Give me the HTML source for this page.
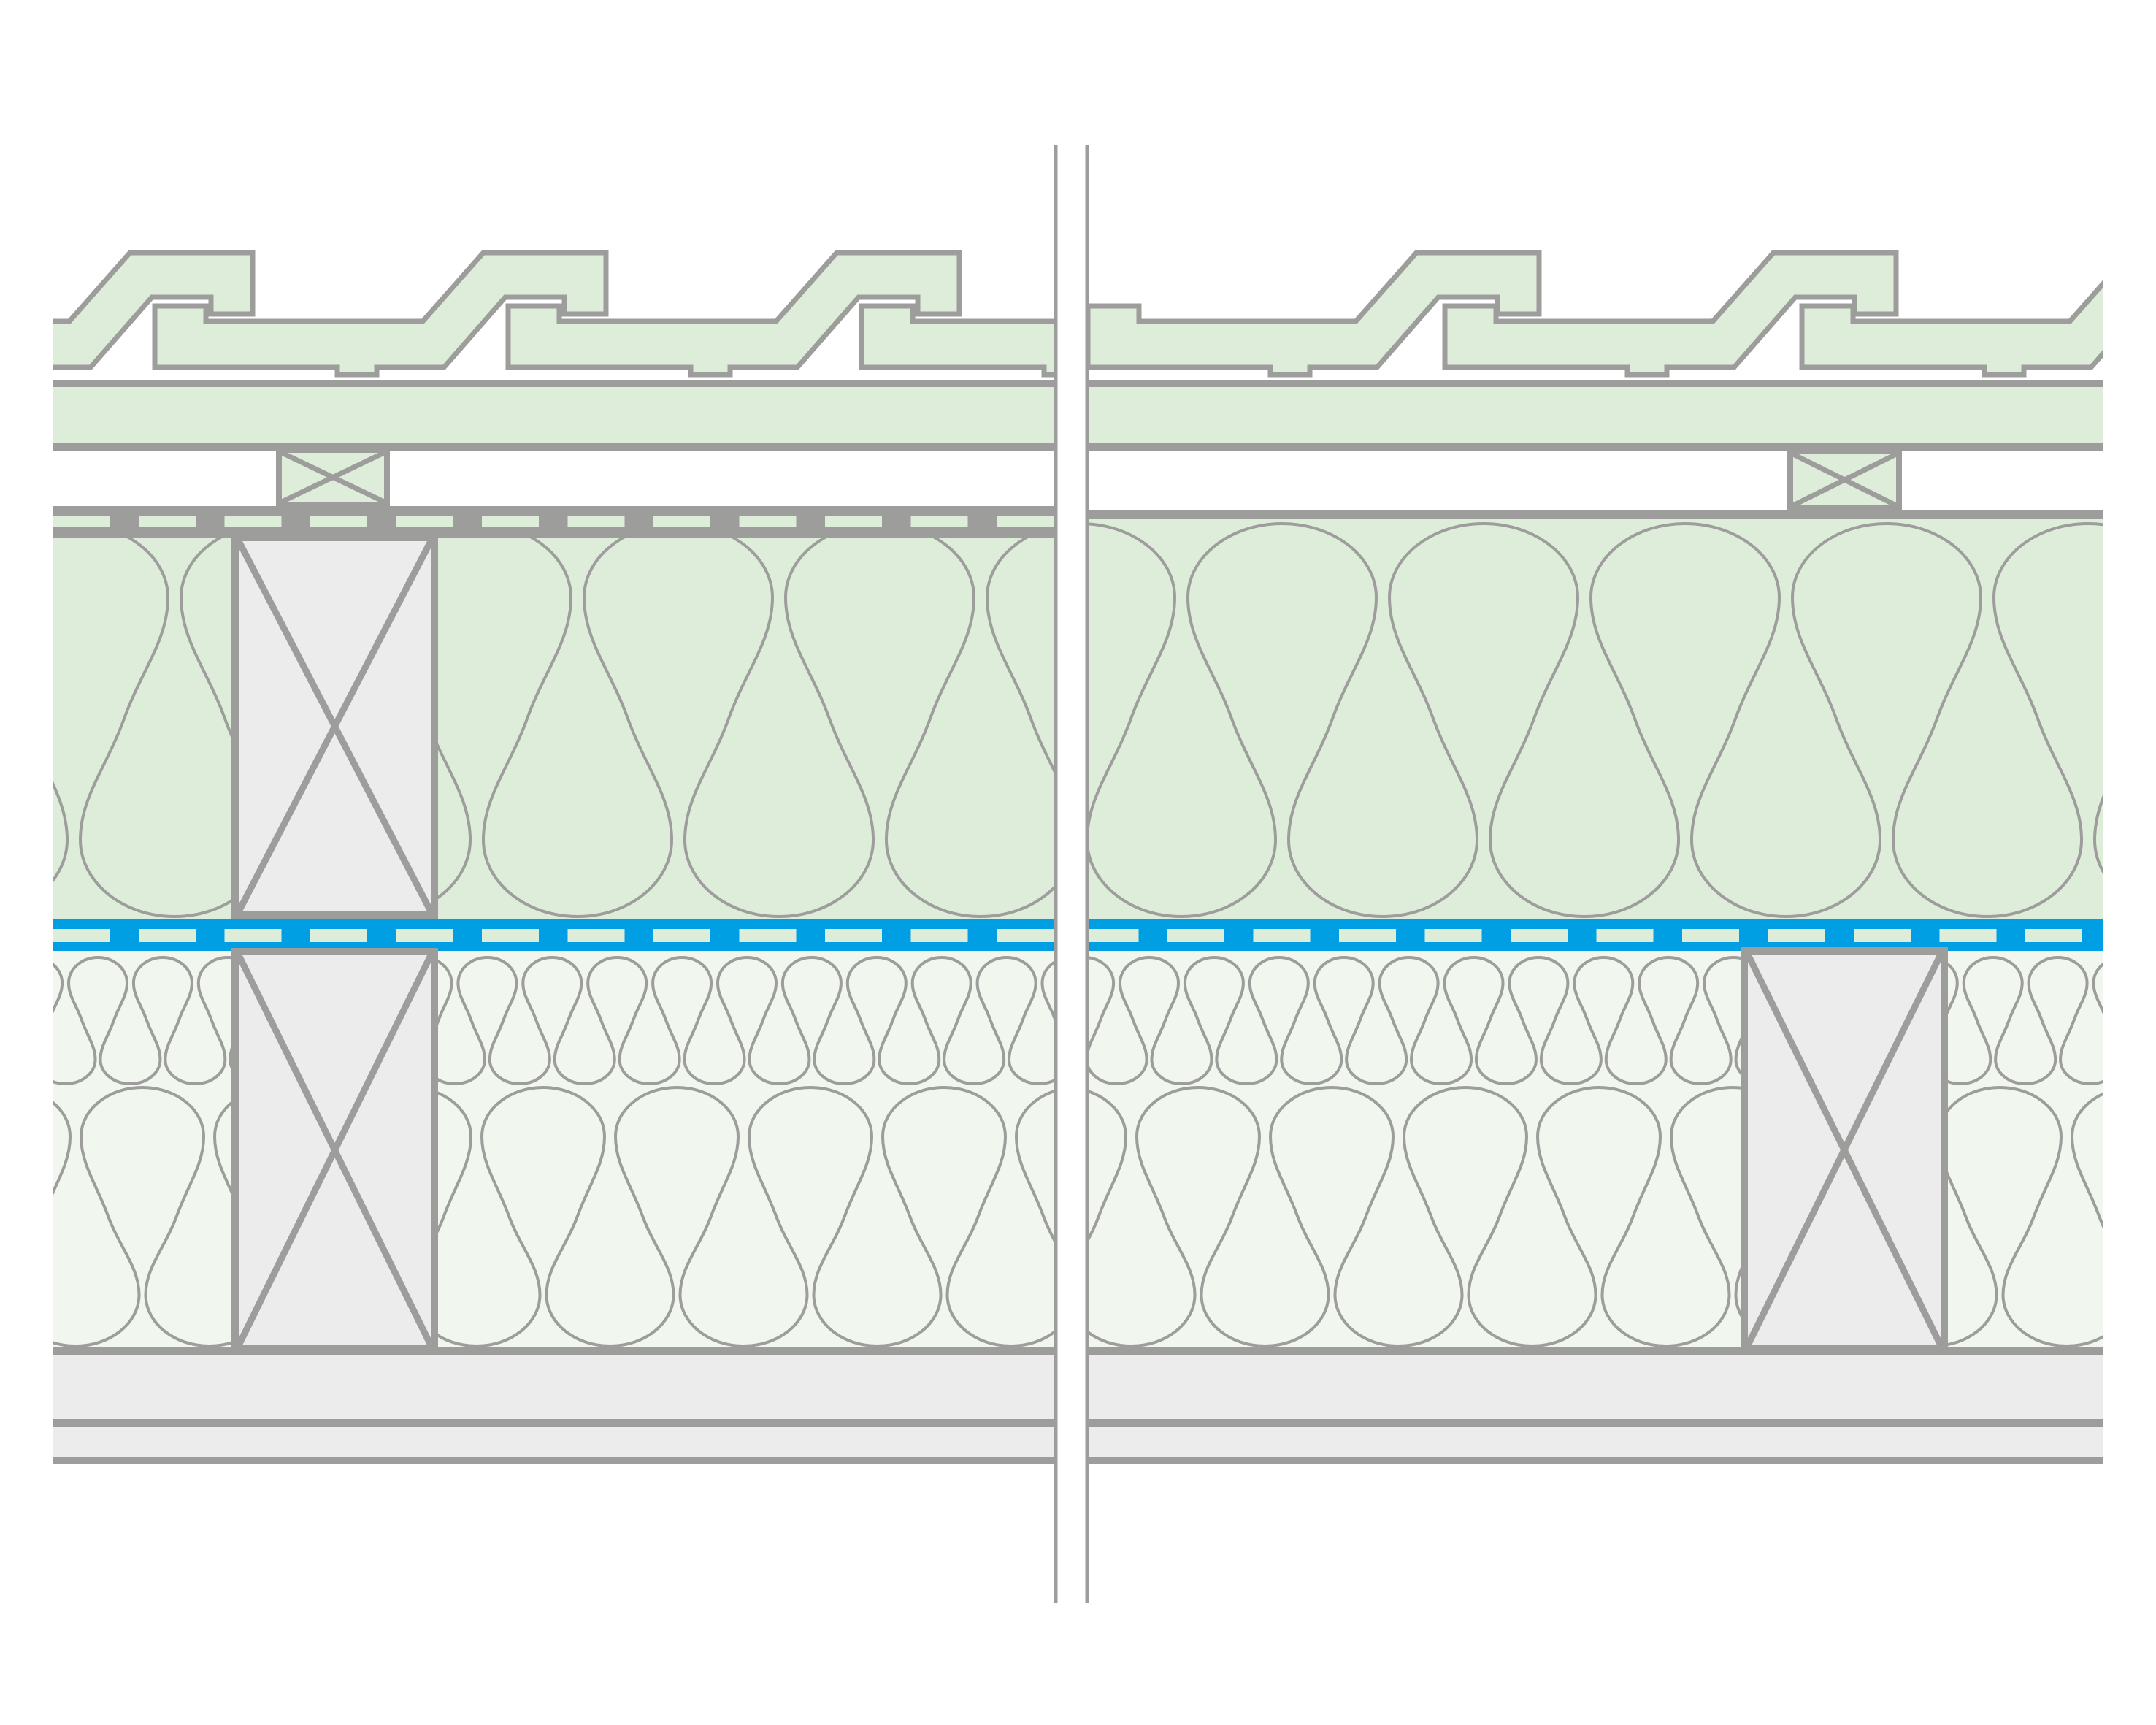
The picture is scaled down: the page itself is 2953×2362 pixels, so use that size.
<!DOCTYPE html>
<html><head><meta charset="utf-8"><style>html,body{margin:0;padding:0;background:#fff}svg{display:block}</style></head>
<body>
<svg id="s" width="2953" height="2362" viewBox="0 0 2953 2362" xmlns="http://www.w3.org/2000/svg">
<defs>
<clipPath id="cl"><rect x="73" y="0" width="1373" height="2362"/></clipPath>
<clipPath id="cr"><rect x="1489" y="0" width="1391" height="2362"/></clipPath>
</defs>
<rect width="2953" height="2362" fill="#fff"/>
<g id="L" clip-path="url(#cl)"></g>
<g id="R" clip-path="url(#cr)"></g>
<line x1="1446" y1="198" x2="1446" y2="2195" stroke="#9d9d9c" stroke-width="5"/>
<line x1="1489" y1="198" x2="1489" y2="2195" stroke="#9d9d9c" stroke-width="5"/>
</svg>
<script>
var G='#9d9d9c',GREEN='#deecda',LG='#f1f6ef',GR='#ececec',BL='#009fe3';
function serp(c0,cEnd,P,T,B,wt,yt,yn,dn,wb,yb){
  var s=(wt+wb-P/2)/(yb-yt),k1=(yn-yt)*0.35,k2=(yn-yt)*0.4,k3=(yb-yn)*0.4,k4=(yb-yn)*0.35;
  var d='M'+(c0-dn)+','+yn;
  for(var c=c0;c<cEnd;c+=P){
    var cb=c+P/2;
    d+=' C'+(c-dn-s*k2)+','+(yn-k2)+' '+(c-wt)+','+(yt+k1)+' '+(c-wt)+','+yt;
    d+=' C'+(c-wt)+','+(yt-(yt-T)*0.55)+' '+(c-wt*0.55)+','+T+' '+c+','+T;
    d+=' C'+(c+wt*0.55)+','+T+' '+(c+wt)+','+(yt-(yt-T)*0.55)+' '+(c+wt)+','+yt;
    d+=' C'+(c+wt)+','+(yt+k1)+' '+(c+dn+s*k2)+','+(yn-k2)+' '+(c+dn)+','+yn;
    d+=' C'+(c+dn-s*k3)+','+(yn+k3)+' '+(cb-wb)+','+(yb-k4)+' '+(cb-wb)+','+yb;
    d+=' C'+(cb-wb)+','+(yb+(B-yb)*0.55)+' '+(cb-wb*0.55)+','+B+' '+cb+','+B;
    d+=' C'+(cb+wb*0.55)+','+B+' '+(cb+wb)+','+(yb+(B-yb)*0.55)+' '+(cb+wb)+','+yb;
    d+=' C'+(cb+wb)+','+(yb-k4)+' '+(c+P-dn+s*k3)+','+(yn+k3)+' '+(c+P-dn)+','+yn;
  }
  return '<path d="'+d+'" fill="none" stroke="'+G+'" stroke-width="4"/>';
}
function tile(x){
  var p=[[0,419],[70,419],[70,440],[367,440],[450,346],[618,346],[618,430],[561,430],[561,407],[480,407],[396,503],[304,503],[304,513],[250,513],[250,503],[0,503]];
  return '<polygon points="'+p.map(function(q){return (q[0]+x)+','+q[1]}).join(' ')+'" fill="'+GREEN+'" stroke="'+G+'" stroke-width="7" stroke-linejoin="miter"/>';
}
function dashes(x0,x1,start,y,h,col){
  var o='';for(var x=start;x<x1;x+=117.5){o+='<rect x="'+x+'" y="'+y+'" width="78" height="'+h+'" fill="'+col+'"/>';}return o;
}
function stud(x1,y1,x2,y2){
  return '<rect x="'+(x1+5)+'" y="'+(y1+5)+'" width="'+(x2-x1-10)+'" height="'+(y2-y1-10)+'" fill="'+GR+'" stroke="'+G+'" stroke-width="10"/>'+
  '<line x1="'+(x1+10)+'" y1="'+(y1+10)+'" x2="'+(x2-10)+'" y2="'+(y2-10)+'" stroke="'+G+'" stroke-width="9"/>'+
  '<line x1="'+(x2-10)+'" y1="'+(y1+10)+'" x2="'+(x1+10)+'" y2="'+(y2-10)+'" stroke="'+G+'" stroke-width="9"/>';
}
function batten(x1,y1,x2,y2){
  return '<rect x="'+(x1+4)+'" y="'+(y1+4)+'" width="'+(x2-x1-8)+'" height="'+(y2-y1-8)+'" fill="'+GREEN+'" stroke="'+G+'" stroke-width="8"/>'+
  '<line x1="'+(x1+8)+'" y1="'+(y1+8)+'" x2="'+(x2-8)+'" y2="'+(y2-8)+'" stroke="'+G+'" stroke-width="7"/>'+
  '<line x1="'+(x2-8)+'" y1="'+(y1+8)+'" x2="'+(x1+8)+'" y2="'+(y2-8)+'" stroke="'+G+'" stroke-width="7"/>';
}
function common(a,b,upTop,topC0,bigC0,smC0,dashStart){
  var o='';
  o+='<rect x="'+a+'" y="1850" width="'+(b-a)+'" height="155" fill="'+GR+'"/>';
  o+='<rect x="'+a+'" y="1845" width="'+(b-a)+'" height="11" fill="'+G+'"/>';
  o+='<rect x="'+a+'" y="1943" width="'+(b-a)+'" height="11" fill="'+G+'"/>';
  o+='<rect x="'+a+'" y="1995" width="'+(b-a)+'" height="10" fill="'+G+'"/>';
  o+='<rect x="'+a+'" y="1302" width="'+(b-a)+'" height="543" fill="'+LG+'"/>';
  o+=serp(smC0,b+200,88.9,1311,1484,40,1346,1397,22,41,1451);
  o+=serp(bigC0,b+300,183,1489,1843,84,1556,1665,47,87,1773);
  o+='<rect x="'+a+'" y="'+upTop+'" width="'+(b-a)+'" height="'+(1258-upTop)+'" fill="'+GREEN+'"/>';
  o+=serp(topC0,b+400,276,717,1255,129,818,984,69,129,1150);
  o+='<rect x="'+a+'" y="1258" width="'+(b-a)+'" height="44" fill="'+BL+'"/>';
  o+=dashes(a,b,dashStart,1272,18,GREEN);
  o+='<rect x="'+a+'" y="525" width="'+(b-a)+'" height="87" fill="'+GREEN+'"/>';
  o+='<rect x="'+a+'" y="520" width="'+(b-a)+'" height="10" fill="'+G+'"/>';
  o+='<rect x="'+a+'" y="606" width="'+(b-a)+'" height="11" fill="'+G+'"/>';
  return o;
}
var L=common(73,1446,731,101-276,195-183*2,134-88.9*2,72.5);
L+='<rect x="73" y="693" width="1373" height="44" fill="'+G+'"/>'+dashes(73,1446,72.5,707,15,GREEN);
L+=batten(378,612,534,695);
L+=stud(317,731,600,1258);
L+=stud(317,1298,600,1852);
[-272,212,696,1180].forEach(function(x){L+=tile(x)});
document.getElementById('L').innerHTML=L;
var R=common(1489,2880,706,1756-276*2,1641-183*2,1574-88.9*2,1481.5);
R+='<rect x="1489" y="699" width="1391" height="11" fill="'+G+'"/>';
R+=batten(2448,614,2605,700);
R+=stud(2384,1297,2668,1852);
[1490,1979,2468].forEach(function(x){R+=tile(x)});
document.getElementById('R').innerHTML=R;
</script>
</body></html>
